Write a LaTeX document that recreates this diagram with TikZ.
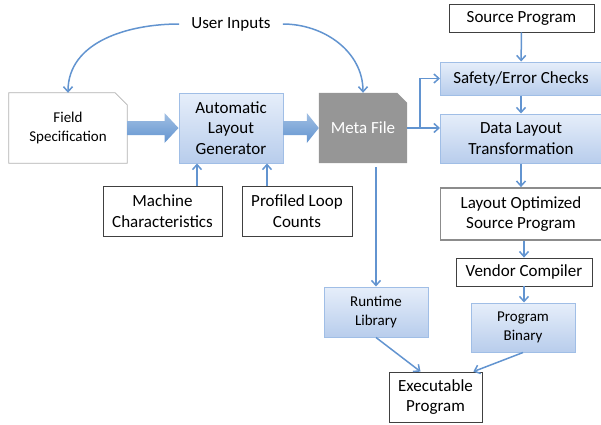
\documentclass[tikz,border=0pt]{standalone}
\usepackage{fontspec}
\setmainfont{Carlito}
\usetikzlibrary{arrows.meta,calc,backgrounds}

\definecolor{flowblue}{RGB}{98,148,208}
\definecolor{boxtop}{RGB}{230,238,250}
\definecolor{boxbot}{RGB}{184,205,236}
\definecolor{boxedge}{RGB}{160,190,230}
\definecolor{metagray}{RGB}{150,150,150}

\tikzset{
  big/.style={font=\fontsize{17}{20.5}\selectfont},
  small/.style={font=\fontsize{15}{19}\selectfont},
  plainbox/.style={draw=black!75, fill=white, line width=0.8pt, align=center, inner sep=0pt, big},
  bluebox/.style={draw=boxedge, top color=boxtop, bottom color=boxbot, line width=1pt, align=center, inner sep=0pt, big},
  flow/.style={draw=flowblue, line width=1.5pt, -{Straight Barb[length=5pt,width=9pt]}},
  fatarrow/.style={top color=flowblue!60, bottom color=flowblue, draw=none},
}

\begin{document}
\begin{tikzpicture}[x=1pt,y=-1pt]
    \useasboundingbox (0,0) rectangle (601,424);
    % left part
    \node[big, inner xsep=12pt] (user) at (231,24) {User Inputs};
    \node[align=center, small, minimum width=118pt, minimum height=70pt, inner sep=0pt] (field) at (68,128) {Field\\Specification};
    \node[bluebox, minimum width=104pt, minimum height=70pt] (alg) at (231,128) {Automatic\\Layout\\Generator};
    \node[align=center, big, text=white, minimum width=88pt, minimum height=70pt, inner sep=0pt] (meta) at (363,128) {Meta File};
    \begin{scope}[on background layer]
      \draw[black!30, fill=white, line width=0.8pt] (field.south west) -- (field.north west) -- ($(field.north east)+(-12,0)$) -- ($(field.north east)+(0,12)$) -- (field.south east) -- cycle;
      \fill[metagray] (meta.south west) -- (meta.north west) -- ($(meta.north east)+(-10,0)$) -- ($(meta.north east)+(0,10)$) -- (meta.south east) -- cycle;
    \end{scope}
    \node[plainbox, minimum width=119pt, minimum height=50pt] (machine) at (162.5,211) {Machine\\Characteristics};
    \node[plainbox, minimum width=110pt, minimum height=50pt] (loops) at (297,211) {Profiled Loop\\Counts};
    % right column
    \node[plainbox, minimum width=145pt, minimum height=28pt] (src) at (521.5,18) {Source Program};
    \node[bluebox, minimum width=161pt, minimum height=33pt] (safety) at (521,78.5) {Safety/Error Checks};
    \node[bluebox, minimum width=161pt, minimum height=49pt] (dlt) at (521,138.5) {Data Layout\\Transformation};
    \node[plainbox, draw=black!45, line width=1.8pt, minimum width=161pt, minimum height=52pt] (opt) at (521,214) {Layout Optimized\\Source Program};
    \node[plainbox, minimum width=136pt, minimum height=28pt] (vendor) at (524,272) {Vendor Compiler};
    \node[bluebox, small, minimum width=104pt, minimum height=49pt] (binary) at (523,327.5) {Program\\Binary};
    \node[bluebox, small, minimum width=104pt, minimum height=50pt] (runtime) at (376,312) {Runtime\\Library};
    \node[plainbox, minimum width=93pt, minimum height=50pt] (exe) at (435.5,397) {Executable\\Program};
    % fat arrows
    \shade[fatarrow] ($(field.east)+(0,-7)$) -- ($(alg.west)+(-14,-7)$) -- ($(alg.west)+(-14,-15)$) -- (alg.west) -- ($(alg.west)+(-14,15)$) -- ($(alg.west)+(-14,7)$) -- ($(field.east)+(0,7)$) -- cycle;
    \shade[fatarrow] ($(alg.east)+(0,-7)$) -- ($(meta.west)+(-12,-7)$) -- ($(meta.west)+(-12,-15)$) -- (meta.west) -- ($(meta.west)+(-12,15)$) -- ($(meta.west)+(-12,7)$) -- ($(alg.east)+(0,7)$) -- cycle;
    % connectors
    \draw[flow] (user.west) to[out=180,in=90] (field.north);
    \draw[flow] (user.east) to[out=0,in=90] (meta.north);
    \draw[flow] ($(machine.north)+(34.5,0)$) -- ($(alg.south)+(-34,0)$);
    \draw[flow] ($(loops.north)+(-30,0)$) -- ($(alg.south)+(36,0)$);
    \draw[flow] (src) -- (safety);
    \draw[flow] (safety) -- (dlt);
    \draw[flow] (meta.east) -- ++(13,0) |- (safety.west);
    \draw[flow] (meta.east) -- (meta.east -| dlt.west);
    \draw[flow] (dlt) -- (opt);
    \draw[flow] (opt.south -| vendor.north) -- (vendor.north);
    \draw[flow] (vendor.south) -- (vendor.south |- binary.north);
    \draw[flow] ([yshift=-4pt]meta.south -| runtime.north) -- (runtime.north);
    \draw[flow] (runtime.south) -- ([xshift=-15pt]exe.north);
    \draw[flow] (binary.south) -- ([xshift=-9pt]exe.north east);
\end{tikzpicture}
\end{document}
